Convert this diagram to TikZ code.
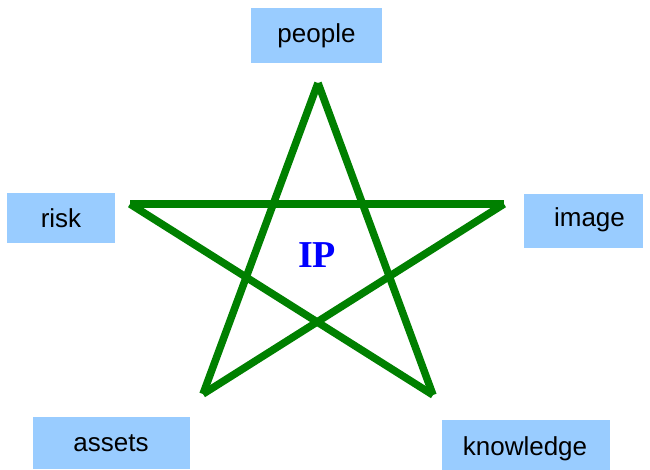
\documentclass[tikz,border=0pt]{standalone}
\usepackage{fontspec}
\setmainfont{Liberation Sans}
\newfontfamily\ipfont{Liberation Serif}
\definecolor{boxblue}{RGB}{153,204,255}
\definecolor{stargreen}{RGB}{0,128,0}
\definecolor{ipblue}{RGB}{0,0,255}
\tikzset{
  bluebox/.style={fill=boxblue, draw=none, inner sep=0pt},
  lbl/.style={anchor=base, inner sep=0pt, font=\fontsize{26}{31}\selectfont, text=black},
  starline/.style={draw=stargreen, line width=7.5pt, line cap=butt}
}
\begin{document}
\begin{tikzpicture}[x=1pt, y=-1pt]
\useasboundingbox (0,0) rectangle (650,470);
% boxes
\node[bluebox, minimum width=131pt, minimum height=55pt] (peoplebox) at (316.5,35.5) {};
\node[bluebox, minimum width=108pt, minimum height=50pt] (riskbox) at (61,218) {};
\node[bluebox, minimum width=119pt, minimum height=54pt] (imagebox) at (583.5,221) {};
\node[bluebox, minimum width=157pt, minimum height=52pt] (assetsbox) at (111.5,443) {};
\node[bluebox, minimum width=168pt, minimum height=50pt] (knowbox) at (526,445) {};
% labels
\node[lbl] (peopletxt) at (316.5,43) {people};
\node[lbl] (risktxt) at (61,227.5) {risk};
\node[lbl] (imagetxt) at (589.5,226.5) {image};
\node[lbl] (assetstxt) at (111,451.5) {assets};
\node[lbl] (knowtxt) at (525,455) {knowledge};
% star
\coordinate (top) at (318,83);
\coordinate (left) at (130,204);
\coordinate (right) at (504,204);
\coordinate (bl) at (203,394);
\coordinate (br) at (433,395);
\draw[starline] (top) -- (bl);
\draw[starline] (bl) -- (right);
\draw[starline] (right) -- (left);
\draw[starline] (left) -- (br);
\draw[starline] (br) -- (top);
% IP
\node[anchor=base, inner sep=0pt, text=ipblue, font=\ipfont\bfseries\fontsize{38}{44}\selectfont] (ip) at (317,268) {IP};
\end{tikzpicture}
\end{document}
